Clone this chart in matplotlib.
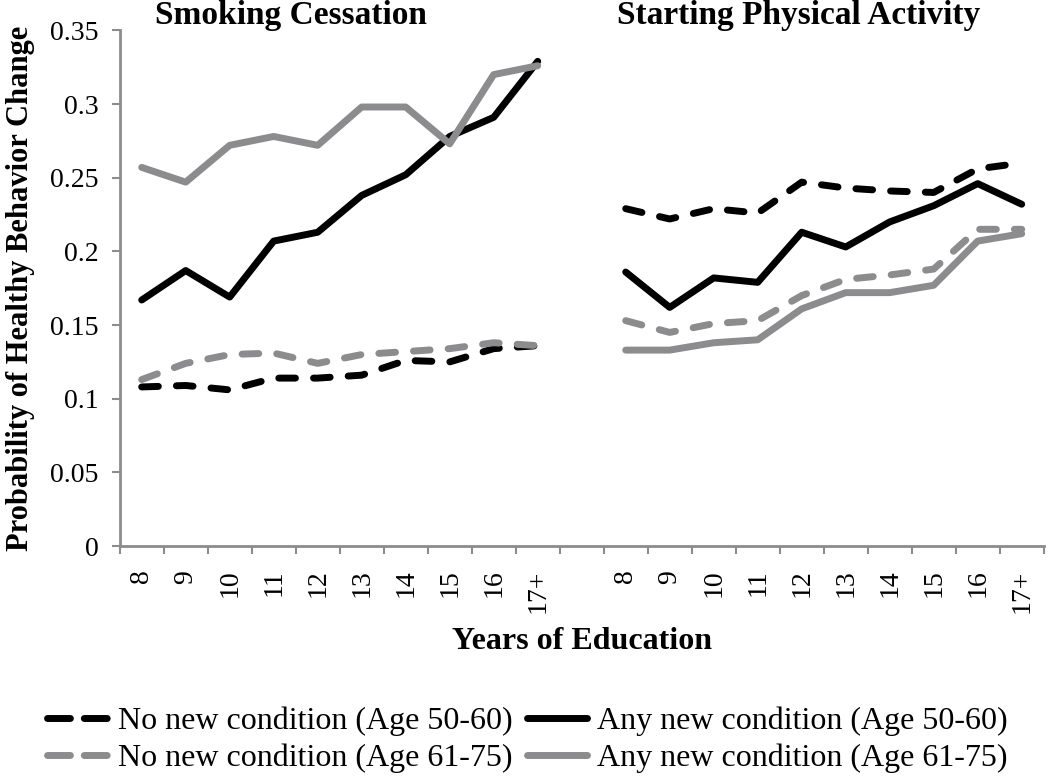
import numpy as np
import matplotlib.pyplot as plt
from matplotlib.lines import Line2D

plt.rcParams['font.family'] = ['Liberation Serif', 'DejaVu Serif']

years = ['8', '9', '10', '11', '12', '13', '14', '15', '16', '17+']
panels = ['Smoking Cessation', 'Starting Physical Activity']

series = ['No new condition (Age 50-60)', 'Any new condition (Age 50-60)',
          'No new condition (Age 61-75)', 'Any new condition (Age 61-75)']

# smoking cessation
smoke_no_5060 = [0.108, 0.109, 0.106, 0.114, 0.114, 0.116, 0.126, 0.125, 0.134, 0.136]
smoke_any_5060 = [0.167, 0.187, 0.169, 0.207, 0.213, 0.238, 0.252, 0.278, 0.291, 0.329]
smoke_no_6175 = [0.113, 0.124, 0.130, 0.131, 0.124, 0.130, 0.132, 0.134, 0.138, 0.136]
smoke_any_6175 = [0.257, 0.247, 0.272, 0.278, 0.272, 0.298, 0.298, 0.273, 0.320, 0.326]

# starting physical activity
phys_no_5060 = [0.229, 0.222, 0.229, 0.226, 0.247, 0.243, 0.241, 0.240, 0.256, 0.260]
phys_any_5060 = [0.186, 0.162, 0.182, 0.179, 0.213, 0.203, 0.220, 0.231, 0.246, 0.232]
phys_no_6175 = [0.153, 0.145, 0.151, 0.153, 0.170, 0.181, 0.184, 0.188, 0.215, 0.215]
phys_any_6175 = [0.133, 0.133, 0.138, 0.140, 0.161, 0.172, 0.172, 0.177, 0.207, 0.212]

smoke = [smoke_no_5060, smoke_any_5060, smoke_no_6175, smoke_any_6175]
phys = [phys_no_5060, phys_any_5060, phys_no_6175, phys_any_6175]

gray = '#8c8c8e'
colors = ['black', 'black', gray, gray]
styles = ['dash', 'solid', 'dash', 'solid']

fig = plt.figure(figsize=(10.5, 7.79), dpi=100)
ax = fig.add_axes([0.114, 0.299, 0.88, 0.662])

x1 = np.arange(10)
x2 = np.arange(11, 21)

handles = []
for i in range(4):
    for xs, data in [(x1, smoke[i]), (x2, phys[i])]:
        line, = ax.plot(xs, data, color=colors[i], lw=5,
                        solid_capstyle='round', dash_capstyle='round')
        if styles[i] == 'dash':
            line.set_dashes([2.4, 2.6])
    # legend proxy: two dashes in the key like the original
    h = Line2D([], [], color=colors[i], lw=5, solid_capstyle='round',
               dash_capstyle='round')
    if styles[i] == 'dash':
        h.set_dashes([3.3, 2.0])
    handles.append(h)

ax.set_xlim(-0.5, 20.5)
ax.set_ylim(0, 0.35)
ax.set_yticks(np.arange(0, 0.351, 0.05))
ax.set_yticklabels(['0', '0.05', '0.1', '0.15', '0.2', '0.25', '0.3', '0.35'], fontsize=20)

ax.set_xticks(list(x1) + list(x2))
ax.set_xticklabels(years + years, rotation=90, fontsize=20)
ax.set_xticks(np.arange(-0.5, 21, 1), minor=True)
ax.tick_params(axis='x', which='major', length=0, pad=17)
ax.tick_params(axis='x', which='minor', length=6, color=gray, width=1.5)
ax.tick_params(axis='y', length=6, color=gray, width=1.5, pad=9)

for s in ['top', 'right']:
    ax.spines[s].set_visible(False)
for s in ['left', 'bottom']:
    ax.spines[s].set_color(gray)
    ax.spines[s].set_linewidth(2)

ax.set_ylabel('Probability of Healthy Behavior Change', fontsize=22, fontweight='bold', labelpad=11)
ax.set_xlabel('Years of Education', fontsize=23, fontweight='bold', labelpad=10)

ax.text(0.3, 0.3545, panels[0], ha='left', va='baseline', fontsize=24, fontweight='bold')
ax.text(10.8, 0.3545, panels[1], ha='left', va='baseline', fontsize=24, fontweight='bold')

order = [0, 2, 1, 3]
fig.legend([handles[k] for k in order], [series[k] for k in order],
           loc='lower left', bbox_to_anchor=(0.045, 0.008), ncol=2, frameon=False,
           fontsize=23, handlelength=1.9, handletextpad=0.3, columnspacing=0.45,
           labelspacing=0.22, borderpad=0, borderaxespad=0)

fig.savefig('out.png', dpi=100)
